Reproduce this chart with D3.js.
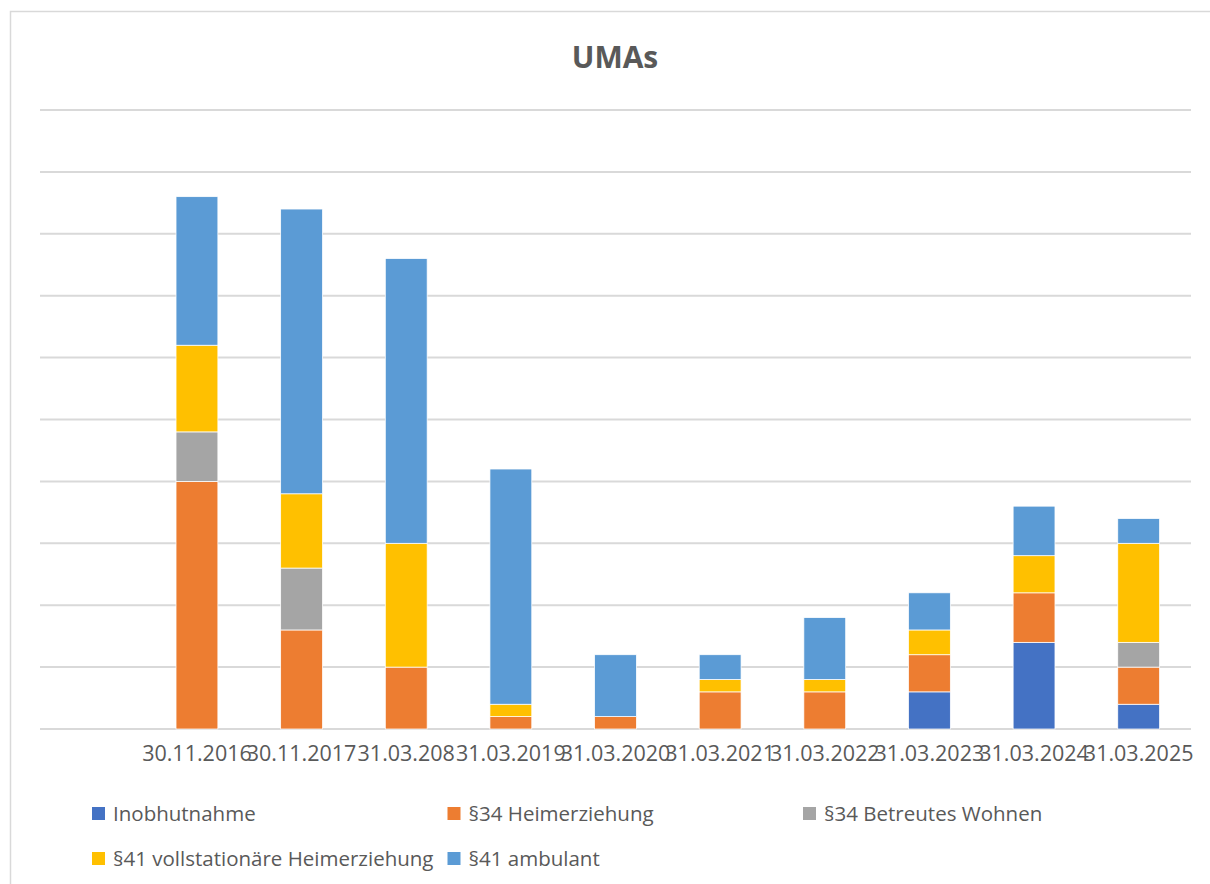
<!DOCTYPE html>
<html>
<head>
<meta charset="utf-8">
<script src="https://cdn.jsdelivr.net/npm/d3@7"></script>
<style>
  body { margin: 0; background: #fff; }
  svg { display: block; font-family: "Open Sans", sans-serif; }
</style>
</head>
<body>
<svg id="mainsvg" width="1210" height="884"></svg>
<script>
// categories (first one is an empty slot, as in the original sheet)
const categories = ["", "30.11.2016", "30.11.2017", "31.03.208", "31.03.2019", "31.03.2020",
  "31.03.2021", "31.03.2022", "31.03.2023", "31.03.2024", "31.03.2025"];
const seriesNames = ["Inobhutnahme", "§34 Heimerziehung", "§34 Betreutes Wohnen",
  "§41 vollstationäre Heimerziehung", "§41 ambulant"];
const inobhutnahme = [0, 0, 0, 0, 0, 0, 0, 0, 3, 7, 2];
const heimerziehung34 = [0, 20, 8, 5, 1, 1, 3, 3, 3, 4, 3];
const betreutesWohnen34 = [0, 4, 5, 0, 0, 0, 0, 0, 0, 0, 2];
const vollstationaer41 = [0, 7, 6, 10, 1, 0, 1, 1, 2, 3, 8];
const ambulant41 = [0, 12, 23, 23, 19, 5, 2, 5, 3, 4, 2];
const colors = ["#4472C4", "#ED7D31", "#A5A5A5", "#FFC000", "#5B9BD5"];
const yMax = 50;
const yTickStep = 5;

const svg = d3.select("#mainsvg");

// chart frame (right and bottom edges are cut off in the original)
svg.append("rect")
  .attr("x", 10.5).attr("y", 11.5)
  .attr("width", 1300).attr("height", 1000)
  .attr("fill", "none")
  .attr("stroke", "#d9d9d9")
  .attr("stroke-width", 1.5);

svg.append("text")
  .attr("x", 615).attr("y", 68)
  .attr("text-anchor", "middle")
  .attr("font-size", 30)
  .attr("font-weight", "bold")
  .attr("fill", "#595959")
  .text("UMAs");

const x = d3.scaleBand()
  .domain(categories.map((c, i) => i))
  .range([40, 1191])
  .paddingInner(0.6)
  .paddingOuter(0.3);

const y = d3.scaleLinear().domain([0, yMax]).range([729, 110]);

// gridlines
const g = svg.append("g");
g.selectAll("line.grid")
  .data(d3.range(0, yMax + 1, yTickStep))
  .enter().append("line")
  .attr("class", "grid")
  .attr("x1", 40).attr("x2", 1191)
  .attr("y1", d => y(d)).attr("y2", d => y(d))
  .attr("stroke", "#d9d9d9")
  .attr("stroke-width", 2);

const table = categories.map((c, i) => ({
  idx: i,
  s0: inobhutnahme[i],
  s1: heimerziehung34[i],
  s2: betreutesWohnen34[i],
  s3: vollstationaer41[i],
  s4: ambulant41[i]
}));
const stack = d3.stack().keys(["s0", "s1", "s2", "s3", "s4"]);
const layers = stack(table);

g.selectAll("g.layer")
  .data(layers)
  .enter().append("g")
  .attr("class", "layer")
  .attr("fill", (d, i) => colors[i])
  .selectAll("rect")
  .data(d => d.filter(p => p[1] - p[0] > 0))
  .enter().append("rect")
  .attr("x", d => x(d.data.idx))
  .attr("width", x.bandwidth())
  .attr("y", d => y(d[1]))
  .attr("height", d => y(d[0]) - y(d[1]))
  .attr("stroke", "#ffffff")
  .attr("stroke-width", 0.75);

// category labels
svg.append("g")
  .selectAll("text")
  .data(categories)
  .enter().append("text")
  .attr("x", (d, i) => x(i) + x.bandwidth() / 2)
  .attr("y", 761)
  .attr("text-anchor", "middle")
  .attr("font-size", 21.5)
  .attr("fill", "#595959")
  .text(d => d);

// legend
const legend = svg.append("g");
seriesNames.forEach((name, i) => {
  const col = i % 3;
  const row = Math.floor(i / 3);
  const lx = 92 + col * 355.5;
  const ly = 821 + row * 45;
  legend.append("rect")
    .attr("x", lx).attr("y", ly - 14)
    .attr("width", 13).attr("height", 13)
    .attr("fill", colors[i]);
  legend.append("text")
    .attr("x", lx + 21).attr("y", ly)
    .attr("font-size", 20.5)
    .attr("fill", "#595959")
    .text(name);
});
</script>
</body>
</html>
